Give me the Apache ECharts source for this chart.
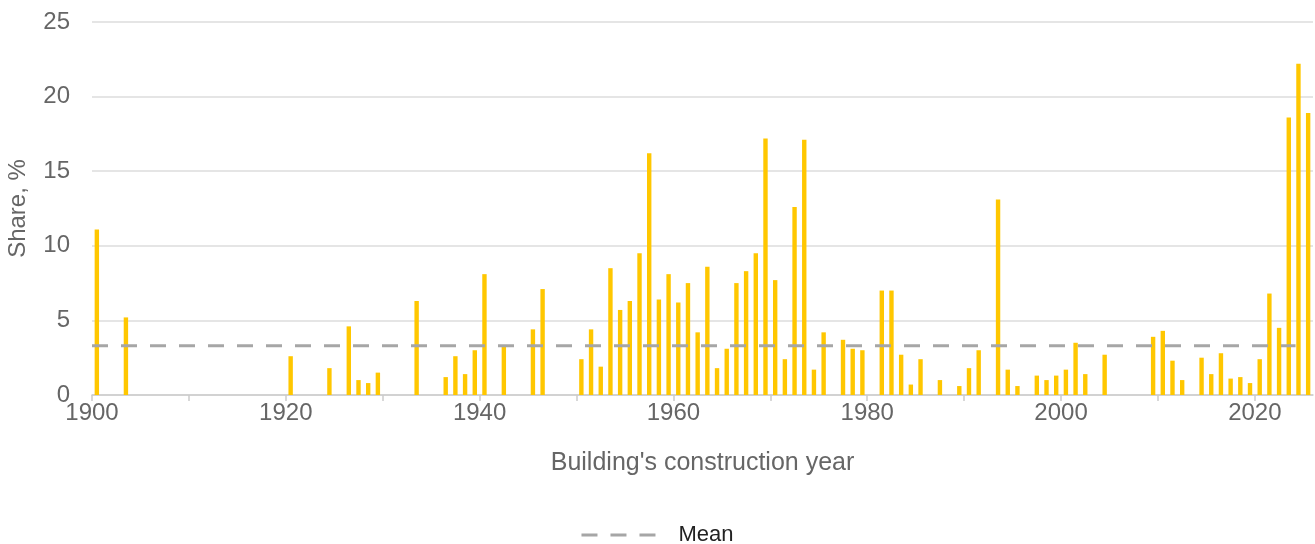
<!DOCTYPE html>
<html>
<head>
<meta charset="utf-8">
<script src="https://cdn.jsdelivr.net/npm/echarts@6/dist/echarts.min.js"></script>
<style>
html,body{margin:0;padding:0;background:#fff;}
#chart{width:1315px;height:544px;}
</style>
</head>
<body>
<div id="chart"></div>
<script>
const years = [1900,1903,1920,1924,1926,1927,1928,1929,1933,1936,1937,1938,1939,1940,1942,1945,1946,1950,1951,1952,1953,1954,1955,1956,1957,1958,1959,1960,1961,1962,1963,1964,1965,1966,1967,1968,1969,1970,1971,1972,1973,1974,1975,1977,1978,1979,1981,1982,1983,1984,1985,1987,1989,1990,1991,1993,1994,1995,1997,1998,1999,2000,2001,2002,2004,2009,2010,2011,2012,2014,2015,2016,2017,2018,2019,2020,2021,2022,2023,2024,2025];
const shares = [11.1,5.2,2.6,1.8,4.6,1.0,0.8,1.5,6.3,1.2,2.6,1.4,3.0,8.1,3.3,4.4,7.1,2.4,4.4,1.9,8.5,5.7,6.3,9.5,16.2,6.4,8.1,6.2,7.5,4.2,8.6,1.8,3.1,7.5,8.3,9.5,17.2,7.7,2.4,12.6,17.1,1.7,4.2,3.7,3.1,3.0,7.0,7.0,2.7,0.7,2.4,1.0,0.6,1.8,3.0,13.1,1.7,0.6,1.3,1.0,1.3,1.7,3.5,1.4,2.7,3.9,4.3,2.3,1.0,2.5,1.4,2.8,1.1,1.2,0.8,2.4,6.8,4.5,18.6,22.2,18.9];
const meanValue = 3.3;
const meanSpan = [1900, 2024.2];
const xTicks = [1900,1910,1920,1930,1940,1950,1960,1970,1980,1990,2000,2010,2020];
const xTickLabels = [1900,1920,1940,1960,1980,2000,2020];

const chart = echarts.init(document.getElementById('chart'), null, {renderer:'canvas'});
const FONT = 'Liberation Sans, Arial, sans-serif';
chart.setOption({
  animation:false,
  backgroundColor:'#fff',
  textStyle:{fontFamily:FONT},
  grid:{left:92,right:2,top:22,bottom:149,containLabel:false,outerBoundsMode:'none'},
  xAxis:{
    type:'value', min:1900, max:2026,
    name:"Building's construction year", nameLocation:'middle', nameGap:56,
    nameTextStyle:{color:'#666',fontSize:25,fontFamily:FONT},
    axisLine:{show:true,lineStyle:{color:'#ccc',width:1.5}},
    axisTick:{show:true,length:6,customValues:xTicks,lineStyle:{color:'#ccc',width:1.5}},
    axisLabel:{customValues:xTickLabels,formatter:v=>String(v),color:'#666',fontSize:24,margin:6,fontFamily:FONT},
    splitLine:{show:false}
  },
  yAxis:{
    type:'value', min:0, max:25, interval:5,
    name:'Share, %', nameLocation:'middle', nameGap:62, nameRotate:90,
    nameTextStyle:{color:'#666',fontSize:24,fontFamily:FONT},
    axisLine:{show:false}, axisTick:{show:false},
    axisLabel:{color:'#666',fontSize:24,margin:22,fontFamily:FONT},
    splitLine:{lineStyle:{color:'#dcdcdc',width:1.5}}
  },
  legend:{
    top:519, left:'center',
    data:[{name:'Mean', icon:'path://M0,0h16v3h-16z M29,0h16v3h-16z M58,0h16v3h-16z'}],
    itemWidth:74, itemHeight:3,
    itemStyle:{color:'#a6a6a6'},
    textStyle:{color:'#222',fontSize:22,fontFamily:FONT,padding:[0,0,0,18]}
  },
  series:[
    {
      name:'Share', type:'bar', barWidth:4.4,
      itemStyle:{color:'#FFC700'},
      data: years.map((y,i)=>[y+0.5, shares[i]])
    },
    {
      name:'Mean', type:'line', symbol:'none', z:5,
      lineStyle:{color:'#a6a6a6',width:3,type:[16,13]},
      itemStyle:{color:'#a6a6a6'},
      data: meanSpan.map(x=>[x, meanValue])
    }
  ]
});
</script>
</body>
</html>
